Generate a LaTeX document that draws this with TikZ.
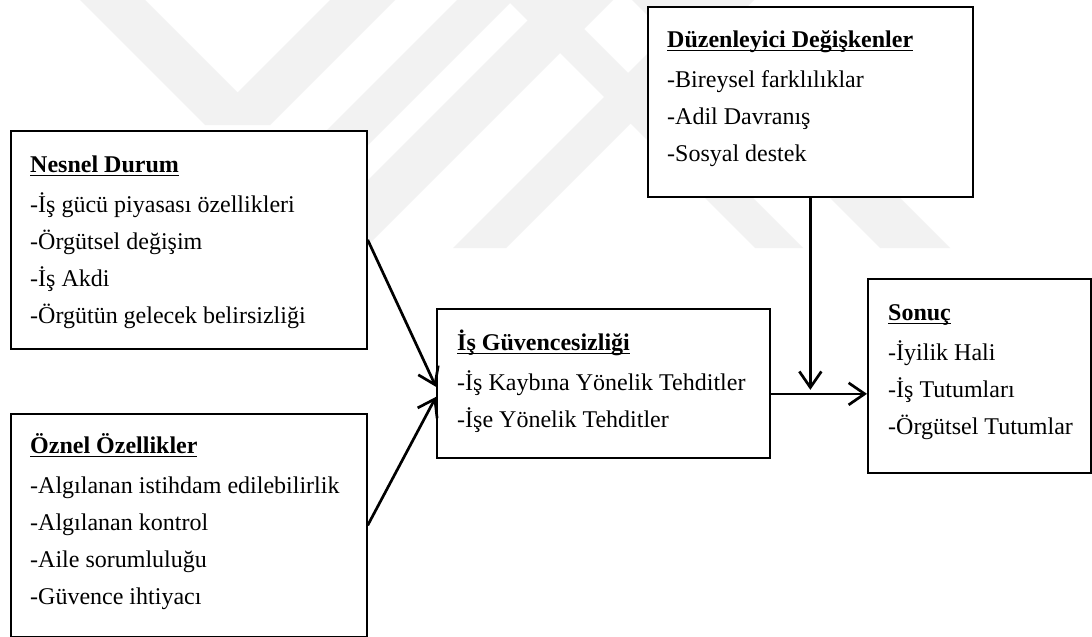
\documentclass[tikz,border=0pt]{standalone}
\usepackage{fontspec}
\setmainfont{Liberation Serif}
\usetikzlibrary{arrows.meta,calc}

% bold heading with a rule set just below the baseline
\newsavebox\ttlbox
\newcommand\ttlul[1]{\sbox\ttlbox{\bfseries #1}\rlap{\vrule height -2.4pt depth 4.2pt width \wd\ttlbox}\usebox\ttlbox}
\newcommand\firstline{\rule{0pt}{22pt}}

\tikzset{
  wm/.style={fill=black!5, draw=none},
  box/.style={draw, line width=1.7pt, fill=white, inner sep=0pt, anchor=north west},
  txt/.style={anchor=north west, inner sep=0pt, align=left, font=\fontsize{24}{37}\selectfont},
  link/.style={line width=2.7pt, -{Straight Barb[length=16pt,width=22pt]}},
}

\begin{document}
\begin{tikzpicture}[x=1pt,y=-1pt]
\useasboundingbox (0,0) rectangle (1092,637);
\fill[white] (0,0) rectangle (1092,637);

% faint background emblem
\begin{scope}
\clip (0,0) rectangle (1092,637);
\fill[wm] (80,0) -- (205,125) -- (270,125) -- (395,0) -- (330,0) -- (237.5,92.5) -- (145,0) -- cycle;
\fill[wm] (209,248) -- (265,248) -- (513,0) -- (457,0) -- cycle;
\fill[wm] (300,248) -- (365,248) -- (613,0) -- (548,0) -- cycle;
\fill[wm] (453,248) -- (506,248) -- (754,0) -- (701,0) -- cycle;
\fill[wm] (755,248) -- (803,248) -- (555,0) -- (507,0) -- cycle;
\fill[wm] (880,248) -- (950,248) -- (702,0) -- (632,0) -- cycle;
\end{scope}

% boxes
\node[box, minimum width=325pt, minimum height=190pt] (duz) at (647,6) {};
\node[box, minimum width=356pt, minimum height=218pt] (nesnel) at (10,130) {};
\node[box, minimum width=356pt, minimum height=223pt] (oznel) at (10,413) {};
\node[box, minimum width=333pt, minimum height=149pt] (isg) at (436,308) {};
\node[box, minimum width=223pt, minimum height=194pt] (sonuc) at (867,278) {};

% box contents
\node[txt] (duz-t) at (667,25) {\firstline\ttlul{Düzenleyici Değişkenler}\\[3pt]
  -Bireysel farklılıklar\\ -Adil Davranış\\ -Sosyal destek};
\node[txt] (nesnel-t) at (30,150) {\firstline\ttlul{Nesnel Durum}\\[3pt]
  -İş gücü piyasası özellikleri\\ -Örgütsel değişim\\ -İş Akdi\\ -Örgütün gelecek belirsizliği};
\node[txt] (oznel-t) at (30,431) {\firstline\ttlul{Öznel Özellikler}\\[3pt]
  -Algılanan istihdam edilebilirlik\\ -Algılanan kontrol\\ -Aile sorumluluğu\\ -Güvence ihtiyacı};
\node[txt] (isg-t) at (457,328) {\firstline\ttlul{İş Güvencesizliği}\\[3pt]
  -İş Kaybına Yönelik Tehditler\\ -İşe Yönelik Tehditler};
\node[txt] (sonuc-t) at (888,298) {\firstline\ttlul{Sonuç}\\[3pt]
  -İyilik Hali\\ -İş Tutumları\\ -Örgütsel Tutumlar};

% connectors
\coordinate (hstart) at ($(isg.east)+(0,10.5)$);
\coordinate (meet) at ($(duz.south |- hstart)+(0,-4)$);
\draw[link] (nesnel.east) -- ($(isg.west)+(0,3.5)$);
\draw[link] (oznel.east) -- ($(isg.west)+(0,13.5)$);
\draw[link] (duz.south) -- (meet);
\draw[link] (hstart) -- (sonuc.west |- hstart);
\end{tikzpicture}
\end{document}
